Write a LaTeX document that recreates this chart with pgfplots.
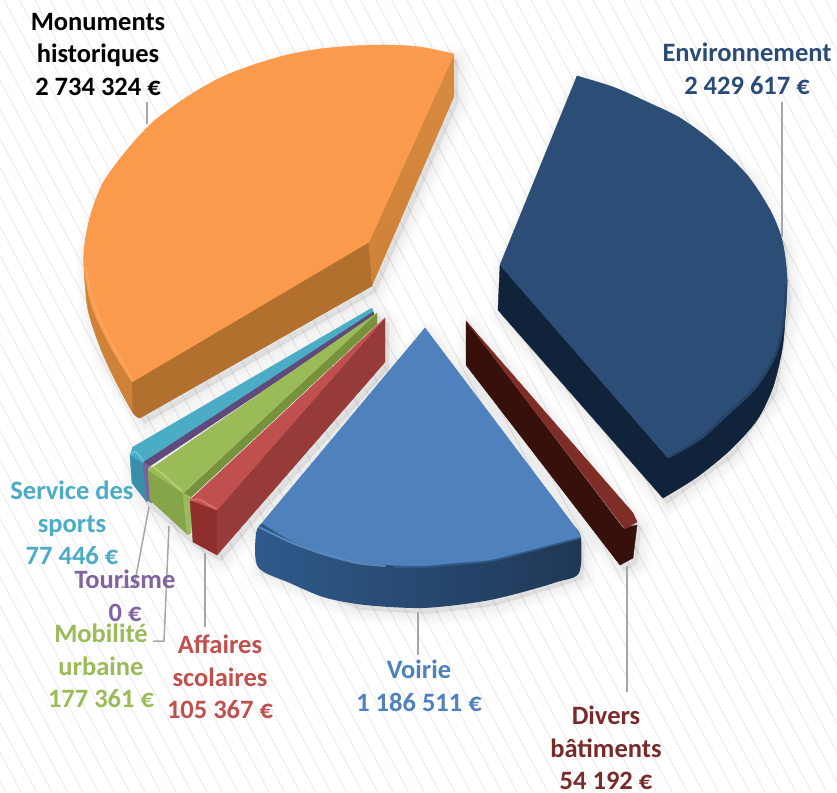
\documentclass[border=0pt]{standalone}
\usepackage{pgfplots}
\pgfplotsset{compat=1.18}
\usepackage{fontspec}
\setmainfont{Carlito}
\definecolor{cOrT}{HTML}{F99A4C}\definecolor{cOrF}{HTML}{B36F2E}\definecolor{cOrR}{HTML}{D88A40}\definecolor{cOrO}{HTML}{CE8237}\definecolor{cOrH}{HTML}{FBAB6A}
\definecolor{cNvT}{HTML}{2C4D75}\definecolor{cNvS}{HTML}{11233A}\definecolor{cNvE}{HTML}{213E60}
\definecolor{cBlT}{HTML}{4F81BD}\definecolor{cBlA}{HTML}{2F5A8C}\definecolor{cBlB}{HTML}{1F3755}\definecolor{cBlH}{HTML}{6E9BD2}\definecolor{cBlE}{HTML}{35628F}
\definecolor{cDrT}{HTML}{7E2D27}\definecolor{cDrS}{HTML}{37100C}
\definecolor{cRdT}{HTML}{C0504D}\definecolor{cRdS}{HTML}{973A3A}\definecolor{cRdF}{HTML}{8E2F2E}\definecolor{cRdH}{HTML}{E07B78}
\definecolor{cGrT}{HTML}{9BBB59}\definecolor{cGrS}{HTML}{76923C}\definecolor{cGrF}{HTML}{86A54B}\definecolor{cGrH}{HTML}{BAD67A}
\definecolor{cPuT}{HTML}{604A7B}\definecolor{cPuF}{HTML}{7B5FA0}
\definecolor{cTeT}{HTML}{4BACC6}\definecolor{cTeF}{HTML}{3A8FA8}\definecolor{cTeH}{HTML}{6CCAE2}
\definecolor{cLead}{HTML}{A6A6A6}
\definecolor{tNv}{HTML}{2A4B76}\definecolor{tBl}{HTML}{4F81BD}\definecolor{tDr}{HTML}{772C2A}\definecolor{tRd}{HTML}{C0504D}\definecolor{tGr}{HTML}{9BBB59}\definecolor{tPu}{HTML}{8064A2}\definecolor{tTe}{HTML}{4BACC6}
% flat polygon
\newcommand\poly[2]{\addplot[draw=#1,line width=.4pt,fill=#1,line join=round] coordinates {#2} -- cycle;}
% smooth arc closed by its chord
\newcommand\seg[2]{\addplot[smooth,draw=#1,line width=.4pt,fill=#1] coordinates {#2};}
% smooth open stroke
\newcommand\rim[3]{\addplot[smooth,draw=#1,line width=#2,line cap=round,draw opacity=.7] coordinates {#3};}
\newcommand\shad[1]{\pgfplotsinvokeforeach{26,21,16,11,6,2}{\addplot[draw=black,fill=black,draw opacity=.012,fill opacity=.012,line width=##1pt,line join=round,xshift=4pt,yshift=-6pt] coordinates {#1} -- cycle;}}
\newcommand\lead[1]{\addplot[draw=cLead,line width=1.5pt] coordinates {#1};}
\newcommand\lab[4]{\node[align=center,text=#1,font=\fontsize{26.5}{32.5}\selectfont\bfseries,inner sep=0pt] at (axis cs:#2,#3) {#4};}
\begin{document}
\begin{tikzpicture}
\path[use as bounding box] (0pt,0pt) rectangle (837pt,792pt);
\begin{scope}
\clip (0pt,0pt) rectangle (837pt,792pt);
\foreach \x in {-430,-414.5,...,840}{
  \draw[color=black!7,line width=1.1pt] (\x pt,792pt) -- ({\x pt+420pt},0pt);
}
\end{scope}
\begin{axis}[at={(0pt,0pt)},anchor=south west,scale only axis,width=837pt,height=792pt,
  xmin=0,xmax=837,ymin=0,ymax=792,y dir=reverse,hide axis,enlargelimits=false,clip=false]
% soft shadows
\shad{(454,54)(369,46)(287,55)(187,97)(103,183)(84,250)(88,310)(103,357)(140,418)(372,286)(454,97)}
\shad{(577,76)(680,118)(747,175)(782,240)(787,293)(773,387)(730,450)(663,498)(498,310)(500,265)}
\shad{(425,328)(581,538)(579,573)(490,600)(423,608)(357,604)(258,567)(256,533)}
\shad{(466,321)(637,522)(633,558)(620,565)(466,365)}
\shad{(372,308)(385,318)(385,362)(217,555)(193,542)(147,502)(132,483)(130,455)(133,447)}
% Monuments historiques
\seg{cOrO}{(84,270)(88,310)(100,347)(115,380)(133,413)(140,418)}
\poly{cOrO}{(84,270)(140,418)(200,300)}
\poly{cOrF}{(132,382)(369,242)(372,286)(140,418)(133,413)}
\addplot[draw=none,left color=cOrR,right color=cOrO,shading angle=0,line width=0pt] coordinates {(454,54)(454,97)(372,286)(369,242)} -- cycle;
\seg{cOrT}{(454,54)(420,47)(387,45)(353,46)(320,49)(287,55)(253,65)(220,78)(187,97)(153,122)(127,150)(103,183)(90,217)(84,250)(85,277)(93,310)(107,340)(120,363)(132,382)}
\poly{cOrT}{(454,54)(320,49)(187,97)(90,217)(107,340)(132,382)(369,242)}
\rim{cOrH}{2pt}{(86,268)(90,290)(98,315)(111,342)(123,363)(132,379)}
% Environnement
\seg{cNvS}{(787,280)(785,320)(782,350)(773,387)(757,420)(730,450)(697,477)(663,498)}
\poly{cNvS}{(500,265)(498,310)(663,498)(730,450)(773,387)(787,280)}
\seg{cNvT}{(577,76)(613,87)(647,102)(680,118)(713,142)(747,175)(770,210)(782,240)(787,277)(785,317)(777,353)(757,387)(730,413)(700,440)(668,458)}
\poly{cNvT}{(577,76)(680,118)(770,210)(785,317)(730,413)(668,458)(500,265)}
\rim{cNvE}{2pt}{(786,285)(784,317)(776,352)(756,386)(729,412)(699,439)(670,457)}
% Divers batiments
\poly{cDrS}{(466,321)(623,528)(637,525)(633,558)(620,565)(466,365)}
\poly{cDrT}{(466,321)(633,513)(637,522)(625,529)}
% Service des sports
\poly{cTeF}{(130,455)(132,483)(147,502)(150,465)}
\poly{cTeT}{(372,308)(374,314)(143,463)(130,455)(133,447)}
\rim{cTeH}{2pt}{(131,454)(136,452)(143,461)}
% Tourisme
\poly{cPuF}{(143,463)(147,500)(152,503)(150,463)}
\poly{cPuT}{(373,312)(375,316)(150,466)(144,462)}
% Mobilite urbaine
\poly{cGrF}{(148,470)(150,500)(187,534)(191,533)(183,493)(155,466)}
\poly{cGrS}{(377,313)(377,324)(191,497)(183,494)}
\poly{cGrT}{(377,313)(155,466)(148,470)(183,493)}
\rim{cGrH}{2pt}{(149,469)(155,468)(182,491)}
\poly{cGrH!40!cGrF}{(183,493)(191,497)(191,533)(187,535)}
% Affaires scolaires
\poly{cRdF}{(190,500)(217,510)(217,555)(193,542)}
\poly{cRdS}{(385,318)(385,362)(217,555)(217,510)}
\poly{cRdT}{(385,318)(217,510)(190,500)}
\rim{cRdH}{2pt}{(191,500)(200,500)(216,509)}
% Voirie
\addplot[smooth,draw=none,left color=cBlA,middle color=cBlB,right color=cBlB] coordinates {(262,523)(256,533)(258,567)(290,583)(323,597)(357,604)(390,607)(423,608)(457,605)(490,600)(523,592)(557,582)(579,573)(581,538)(575,527)};
\seg{cBlT}{(262,523)(290,540)(323,553)(357,562)(390,565)(423,566)(457,563)(490,560)(523,552)(557,543)(581,537)}
\poly{cBlT}{(425,328)(262,523)(323,553)(423,566)(523,552)(581,537)(575,527)}
\rim{cBlH}{2pt}{(259,527)(290,542)(323,554)(357,563)(385,566)}
\rim{cBlE}{2pt}{(395,567)(423,567)(457,564)(490,561)(523,553)(557,544)(580,538)}
% leader lines
\lead{(147,102)(147,124)}
\lead{(782,102)(782,237)}
\lead{(418,612)(418,655)}
\lead{(627,566)(627,692)}
\lead{(205,553)(205,627)}
\lead{(169,526)(164,641)(153,641)}
\lead{(149,507)(134,587)(121,587)}
% labels
\lab{black}{98}{54}{Monuments\\historiques\\2 734 324 €}
\lab{tNv}{747}{69}{Environnement\\2 429 617 €}
\lab{tTe}{72}{523}{Service des\\sports\\77 446 €}
\lab{tPu}{125}{596}{Tourisme\\0 €}
\lab{tGr}{101}{666}{Mobilité\\urbaine\\177 361 €}
\lab{tRd}{220}{677}{Affaires\\scolaires\\105 367 €}
\lab{tBl}{419}{686}{Voirie\\1 186 511 €}
\lab{tDr}{606}{748}{Divers\\bâtiments\\54 192 €}
\end{axis}
\end{tikzpicture}
\end{document}
